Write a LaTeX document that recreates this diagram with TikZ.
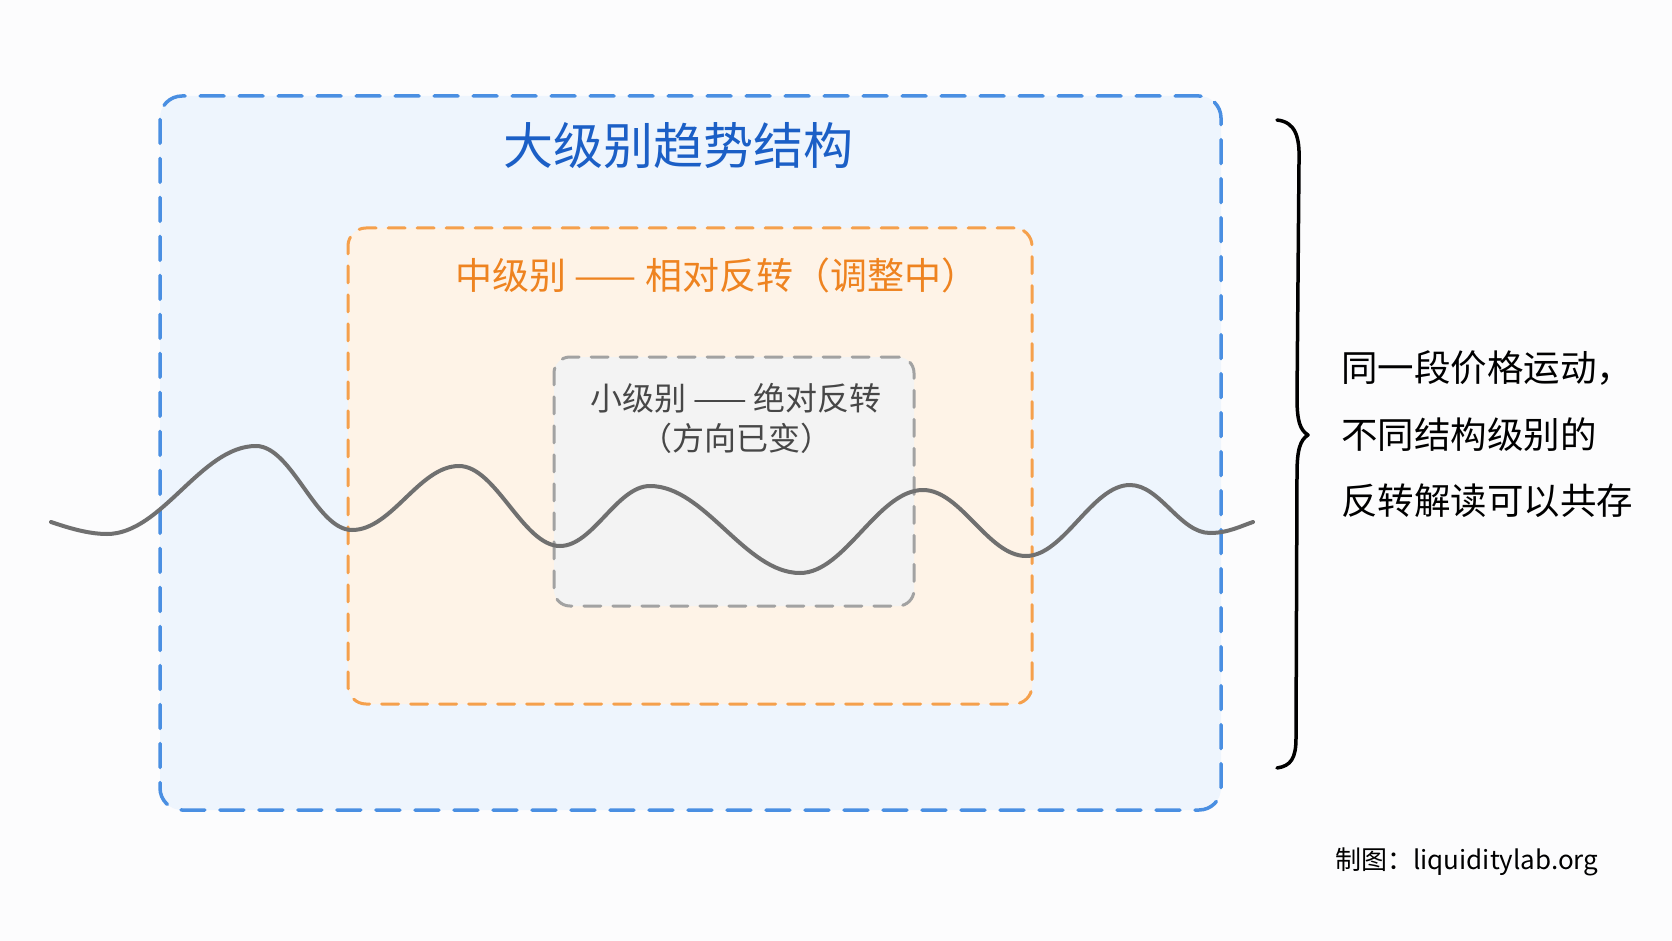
\documentclass[tikz,border=0pt]{standalone}
\usepackage{fontspec}
\newfontfamily\cjk{Noto Sans CJK SC}
\definecolor{bgcol}{HTML}{FCFCFD}
\definecolor{bluefill}{HTML}{EEF5FD}
\definecolor{blueline}{HTML}{4A8FE2}
\definecolor{bluetext}{HTML}{1B5FC6}
\definecolor{orangefill}{HTML}{FEF3E7}
\definecolor{orangeline}{HTML}{F5A04C}
\definecolor{orangetext}{HTML}{EE8320}
\definecolor{grayfill}{HTML}{F3F3F3}
\definecolor{grayline}{HTML}{A2A2A2}
\definecolor{graytext}{HTML}{474747}
\definecolor{wavecol}{HTML}{707070}
\tikzset{
  levelbox/.style={rectangle, inner sep=0pt, line cap=round},
  bigbox/.style={levelbox, fill=bluefill, draw=blueline, line width=3.5pt, rounded corners=22pt, dash pattern=on 24pt off 15pt},
  midbox/.style={levelbox, fill=orangefill, draw=orangeline, line width=3pt, rounded corners=18pt, dash pattern=on 17pt off 12pt},
  smallbox/.style={levelbox, fill=grayfill, draw=grayline, line width=3pt, rounded corners=16pt, dash pattern=on 17pt off 12pt},
  lbl/.style={inner sep=0pt, font=\cjk},
}
\begin{document}
\begin{tikzpicture}[x=1pt,y=-1pt]
\fill[bgcol] (0,0) rectangle (1672,941);
\useasboundingbox (0,0) rectangle (1672,941);

\node[bigbox, minimum width=1061pt, minimum height=714pt] (big) at (690.5,453) {};
\node[midbox, minimum width=684pt, minimum height=476pt] (mid) at (690,466) {};
\node[smallbox, minimum width=360pt, minimum height=249pt] (small) at (734,481.5) {};

\node[lbl, text=bluetext, font=\cjk\fontsize{50}{54}\selectfont] (tbig) at (678,146) {大级别趋势结构};
\node[lbl, text=orangetext, font=\cjk\fontsize{37}{42}\selectfont] (tmid) at (717,275) {中级别 —— 相对反转（调整中）};
\node[lbl, text=graytext, font=\cjk\fontsize{32}{36}\selectfont] (tsmall1) at (736,398) {小级别 —— 绝对反转};
\node[lbl, text=graytext, font=\cjk\fontsize{32}{36}\selectfont] (tsmall2) at (736,438) {（方向已变）};

\coordinate (w0) at (51,522);
\coordinate (w1) at (107,534);
\coordinate (w2) at (256,446);
\coordinate (w3) at (352,530);
\coordinate (w4) at (459,466);
\coordinate (w5) at (560,546);
\coordinate (w6) at (650,486);
\coordinate (w7) at (800,573);
\coordinate (w8) at (923,490);
\coordinate (w9) at (1026,556);
\coordinate (w10) at (1130,485);
\coordinate (w11) at (1210,533);
\coordinate (w12) at (1253,522);
\draw[wavecol, line width=4pt, line cap=round]
  (w0) .. controls (66,527) and (87,534) .. (w1)
  .. controls (162,534) and (201,446) .. (w2)
  .. controls (292,446) and (316,530) .. (w3)
  .. controls (392,530) and (419,466) .. (w4)
  .. controls (496,466) and (523,546) .. (w5)
  .. controls (593,546) and (617,486) .. (w6)
  .. controls (705,486) and (745,573) .. (w7)
  .. controls (845,573) and (878,490) .. (w8)
  .. controls (961,490) and (988,556) .. (w9)
  .. controls (1064,556) and (1092,485) .. (w10)
  .. controls (1160,485) and (1180,533) .. (w11)
  .. controls (1228,533) and (1241,526) .. (w12);

\coordinate (btop) at (1277,120);
\coordinate (btip) at (1308,435);
\coordinate (bbot) at (1277,768);
\draw[black, line width=3.5pt, line cap=round, line join=round]
  (btop) .. controls (1295,122) and (1300,136) .. (1299,162)
  -- (1297,398) .. controls (1297,421) and (1300,430) .. (btip)
  .. controls (1300,440) and (1297,450) .. (1297,474)
  -- (1296,738) .. controls (1296,758) and (1291,766) .. (bbot);

\node[lbl, anchor=west, text=black, font=\cjk\fontsize{36.5}{42}\selectfont] (r1) at (1341,368) {同一段价格运动，};
\node[lbl, anchor=west, text=black, font=\cjk\fontsize{36.5}{42}\selectfont] (r2) at (1341,435) {不同结构级别的};
\node[lbl, anchor=west, text=black, font=\cjk\fontsize{36.5}{42}\selectfont] (r3) at (1341,501) {反转解读可以共存};

\node[lbl, anchor=west, text=black, font=\cjk\fontsize{26}{30}\selectfont] (credit) at (1335,862) {制图：liquiditylab.org};
\end{tikzpicture}
\end{document}
